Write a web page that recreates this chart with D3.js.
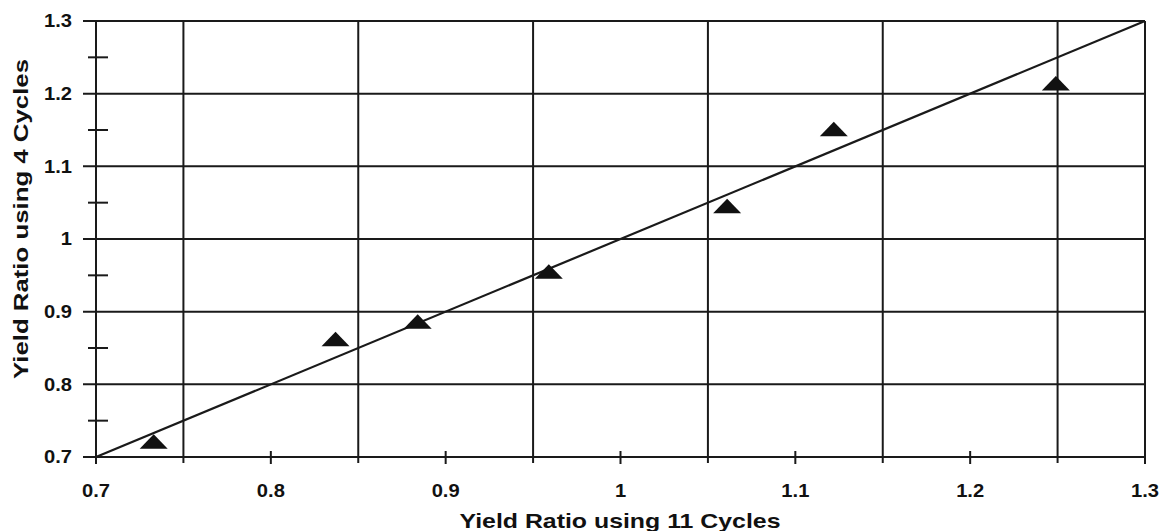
<!DOCTYPE html>
<html><head><meta charset="utf-8">
<script src="https://cdn.jsdelivr.net/npm/d3@7"></script>
<style>body{margin:0;background:#fff}svg{display:block}text{font-family:"Liberation Sans",Arial,sans-serif;font-weight:bold;fill:#111}</style>
</head><body>
<svg id="c" width="1163" height="531"></svg>
<script>
const xValues = [0.733, 0.837, 0.884, 0.959, 1.061, 1.122, 1.249];
const yValues = [0.721, 0.862, 0.886, 0.955, 1.045, 1.151, 1.214];
const tickLabels = [0.7, 0.8, 0.9, 1.0, 1.1, 1.2, 1.3];
const minorTicks = [0.75, 0.85, 0.95, 1.05, 1.15, 1.25];
const lineEnds = [0.7, 1.3];
const xTitle = "Yield Ratio using 11 Cycles";
const yTitle = "Yield Ratio using 4 Cycles";

const svg = d3.select("#c");
const L = 96, R = 1145, T = 21, B = 457;
const x = d3.scaleLinear().domain([0.7, 1.3]).range([L, R]);
const y = d3.scaleLinear().domain([0.7, 1.3]).range([B, T]);
const fmt = d => (d === 1 ? "1" : d3.format(".1f")(d));
const ink = "#1a1a1a";

svg.append("g").selectAll("line").data(minorTicks).join("line")
  .attr("x1", d => x(d)).attr("x2", d => x(d)).attr("y1", T).attr("y2", B + 6)
  .attr("stroke", ink).attr("stroke-width", 2);
svg.append("g").selectAll("line").data(tickLabels).join("line")
  .attr("x1", L - 13).attr("x2", R).attr("y1", d => y(d)).attr("y2", d => y(d))
  .attr("stroke", ink).attr("stroke-width", 2);
svg.append("line").attr("x1", R).attr("x2", R).attr("y1", T).attr("y2", B + 6)
  .attr("stroke", ink).attr("stroke-width", 2);
svg.append("line").attr("x1", L).attr("x2", L).attr("y1", T).attr("y2", B + 6)
  .attr("stroke", ink).attr("stroke-width", 2);
svg.append("g").selectAll("line").data(minorTicks).join("line")
  .attr("x1", L - 8).attr("x2", L + 12).attr("y1", d => y(d)).attr("y2", d => y(d))
  .attr("stroke", ink).attr("stroke-width", 2);
svg.append("g").selectAll("line").data(tickLabels).join("line")
  .attr("x1", d => x(d)).attr("x2", d => x(d)).attr("y1", B - 6).attr("y2", B + 7)
  .attr("stroke", ink).attr("stroke-width", 2);

svg.append("g").selectAll("text").data(tickLabels).join("text")
  .attr("transform", d => `translate(72,${y(d)}) scale(1.12,1)`)
  .attr("dy", "0.36em").attr("text-anchor", "end")
  .attr("font-size", 18).text(fmt);
svg.append("g").selectAll("text").data(tickLabels).join("text")
  .attr("transform", d => `translate(${x(d)},491) scale(1.12,1)`)
  .attr("dy", "0.36em").attr("text-anchor", "middle")
  .attr("font-size", 18).text(fmt);

svg.append("text").attr("x", 620).attr("y", 520).attr("dy", "0.36em")
  .attr("text-anchor", "middle").attr("font-size", 21)
  .attr("textLength", 321).attr("lengthAdjust", "spacingAndGlyphs").text(xTitle);
svg.append("text").attr("transform", "translate(20,219) rotate(-90)").attr("dy", "0.36em")
  .attr("text-anchor", "middle").attr("font-size", 21)
  .attr("textLength", 320).attr("lengthAdjust", "spacingAndGlyphs").text(yTitle);

svg.append("line").attr("x1", x(lineEnds[0])).attr("y1", y(lineEnds[0]))
  .attr("x2", x(lineEnds[1])).attr("y2", y(lineEnds[1]))
  .attr("stroke", ink).attr("stroke-width", 2.2);

const pts = xValues.map((v, i) => [v, yValues[i]]);
svg.append("g").selectAll("path").data(pts).join("path")
  .attr("transform", d => `translate(${x(d[0])},${y(d[1])})`)
  .attr("d", "M0,-7.5L14,7L-14,7Z").attr("fill", "#111");
</script>
</body></html>
